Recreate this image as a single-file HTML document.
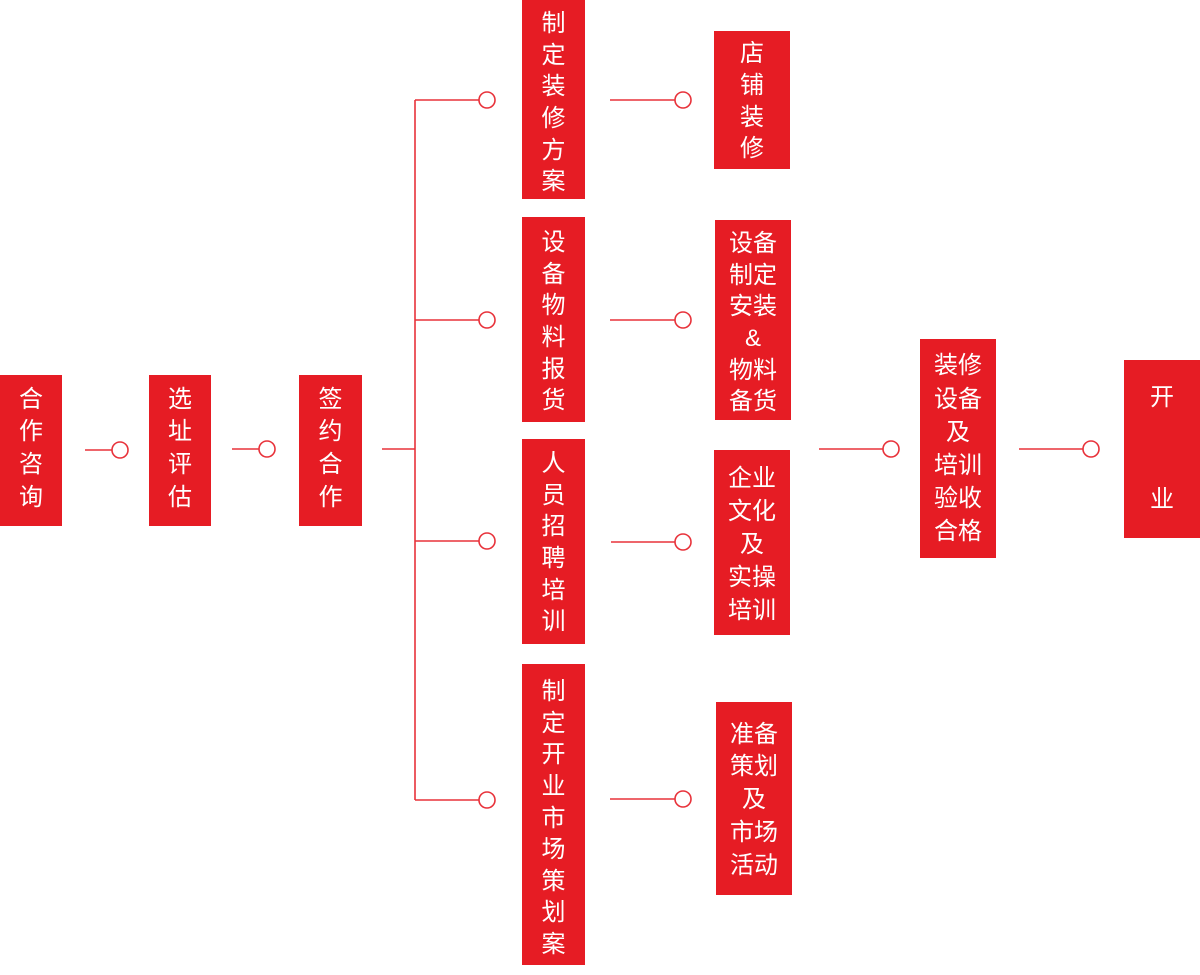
<!DOCTYPE html>
<html><head><meta charset="utf-8">
<style>
html,body{margin:0;padding:0;background:#fff;}
body{width:1200px;height:975px;position:relative;overflow:hidden;font-family:"Liberation Sans","Noto Sans CJK SC",sans-serif;}
.b{position:absolute;background:#e61c24;color:#fff;font-size:24px;text-align:center;box-sizing:border-box;}
.b div{white-space:nowrap;position:relative;top:2px;}
svg{position:absolute;left:0;top:0;}
</style></head><body>
<svg width="1200" height="975">
<g stroke="#e8323a" stroke-width="1.6" fill="#fff">
<line x1="85" y1="450" x2="112" y2="450"/><circle cx="120" cy="450" r="8"/>
<line x1="232" y1="449" x2="259" y2="449"/><circle cx="267" cy="449" r="8"/>
<line x1="382" y1="449" x2="415" y2="449"/>
<line x1="415" y1="100" x2="415" y2="800"/>
<line x1="415" y1="100" x2="479" y2="100"/><circle cx="487" cy="100" r="8"/>
<line x1="415" y1="320" x2="479" y2="320"/><circle cx="487" cy="320" r="8"/>
<line x1="415" y1="541" x2="479" y2="541"/><circle cx="487" cy="541" r="8"/>
<line x1="415" y1="800" x2="479" y2="800"/><circle cx="487" cy="800" r="8"/>
<line x1="610" y1="100" x2="675" y2="100"/><circle cx="683" cy="100" r="8"/>
<line x1="610" y1="320" x2="675" y2="320"/><circle cx="683" cy="320" r="8"/>
<line x1="611" y1="542" x2="675" y2="542"/><circle cx="683" cy="542" r="8"/>
<line x1="610" y1="799" x2="675" y2="799"/><circle cx="683" cy="799" r="8"/>
<line x1="819" y1="449" x2="883" y2="449"/><circle cx="891" cy="449" r="8"/>
<line x1="1019" y1="449" x2="1083" y2="449"/><circle cx="1091" cy="449" r="8"/>
</g>
</svg>

<div class="b" style="left:0;top:375px;width:62px;height:151px;padding-top:6.6px;line-height:32.7px"><div>合</div><div>作</div><div>咨</div><div>询</div></div>
<div class="b" style="left:149px;top:375px;width:62px;height:151px;padding-top:6.6px;line-height:32.7px"><div>选</div><div>址</div><div>评</div><div>估</div></div>
<div class="b" style="left:299px;top:375px;width:63px;height:151px;padding-top:6.6px;line-height:32.7px"><div>签</div><div>约</div><div>合</div><div>作</div></div>

<div class="b" style="left:522px;top:0;width:63px;height:199px;padding-top:6.2px;line-height:31.6px"><div>制</div><div>定</div><div>装</div><div>修</div><div>方</div><div>案</div></div>
<div class="b" style="left:522px;top:217px;width:63px;height:205px;padding-top:8.2px;line-height:31.6px"><div>设</div><div>备</div><div>物</div><div>料</div><div>报</div><div>货</div></div>
<div class="b" style="left:522px;top:439px;width:63px;height:205px;padding-top:7.2px;line-height:31.6px"><div>人</div><div>员</div><div>招</div><div>聘</div><div>培</div><div>训</div></div>
<div class="b" style="left:522px;top:664px;width:63px;height:301px;padding-top:10.2px;line-height:31.6px"><div>制</div><div>定</div><div>开</div><div>业</div><div>市</div><div>场</div><div>策</div><div>划</div><div>案</div></div>

<div class="b" style="left:714px;top:31px;width:76px;height:138px;padding-top:5.2px;line-height:31.7px"><div>店</div><div>铺</div><div>装</div><div>修</div></div>
<div class="b" style="left:715px;top:220px;width:76px;height:200px;padding-top:6.2px;line-height:31.6px"><div>设备</div><div>制定</div><div>安装</div><div>&amp;</div><div>物料</div><div>备货</div></div>
<div class="b" style="left:714px;top:450px;width:76px;height:185px;padding-top:9.5px;line-height:33px"><div>企业</div><div>文化</div><div>及</div><div>实操</div><div>培训</div></div>
<div class="b" style="left:716px;top:702px;width:76px;height:193px;padding-top:14.6px;line-height:32.8px"><div>准备</div><div>策划</div><div>及</div><div>市场</div><div>活动</div></div>

<div class="b" style="left:920px;top:339px;width:76px;height:219px;padding-top:8.4px;line-height:33.2px"><div>装修</div><div>设备</div><div>及</div><div>培训</div><div>验收</div><div>合格</div></div>

<div class="b" style="left:1124px;top:360px;width:76px;height:178px;">
<div style="position:absolute;left:0;width:76px;top:22px;line-height:32px">开</div>
<div style="position:absolute;left:0;width:76px;top:124px;line-height:32px">业</div>
</div>
</body></html>
